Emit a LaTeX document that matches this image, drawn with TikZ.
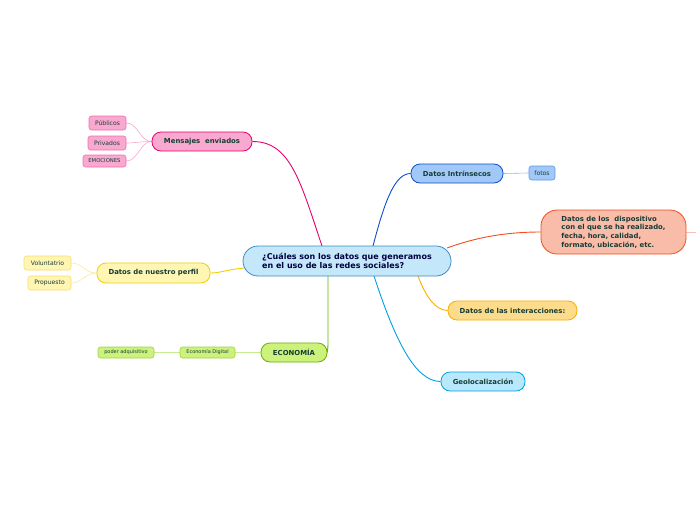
\documentclass[tikz,border=0pt]{standalone}
\usepackage{fontspec}
\setmainfont{DejaVu Sans}
\pgfdeclarelayer{bg}
\pgfsetlayers{bg,main}
\begin{document}
\begin{tikzpicture}[x=1pt,y=-1pt,
  topic/.style={draw, line width=0.8pt, rounded corners=#1, inner sep=0pt, font=\bfseries\fontsize{6.9}{7.5}\selectfont, text=labeltext},
  topic/.default=9pt,
  leaf/.style={draw, line width=0.6pt, rounded corners=2.5pt, inner sep=0pt, font=\fontsize{6.1}{7}\selectfont, text=labeltext},
  link/.style={line width=0.9pt},
  sublink/.style={line width=0.6pt}]
\definecolor{labeltext}{HTML}{163C36}
\definecolor{mainfill}{HTML}{C4E8FA}\definecolor{maindraw}{HTML}{3A8CC8}
\definecolor{pinkfill}{HTML}{F9A9CF}\definecolor{pinkdraw}{HTML}{E8006E}\definecolor{pinkleaf}{HTML}{F070B0}\definecolor{pinklite}{HTML}{F8A8D0}
\definecolor{yelfill}{HTML}{FFF6B4}\definecolor{yeldraw}{HTML}{F0D000}\definecolor{yelleaf}{HTML}{F8DC70}\definecolor{yellite}{HTML}{F8EAA0}
\definecolor{grnfill}{HTML}{CCF27C}\definecolor{grndraw}{HTML}{6AB000}\definecolor{grnleaf}{HTML}{9CD448}\definecolor{grnlite}{HTML}{C8EC90}
\definecolor{bluefill}{HTML}{A2C8F8}\definecolor{bluedraw}{HTML}{0A50C8}\definecolor{blueleaf}{HTML}{6098E8}\definecolor{bluelite}{HTML}{90B8F0}
\definecolor{orfill}{HTML}{F8BCA8}\definecolor{ordraw}{HTML}{F05020}\definecolor{orlite}{HTML}{F8C0B0}
\definecolor{ambfill}{HTML}{FCDC8A}\definecolor{ambdraw}{HTML}{F8B000}
\definecolor{cyfill}{HTML}{B8E8FC}\definecolor{cydraw}{HTML}{00A0E0}
\useasboundingbox (0,0) rectangle (696,520);

\coordinate (mT1) at (322,246);
\coordinate (mT2) at (373,246);
\coordinate (mR1) at (447,248);
\coordinate (mB1) at (418,276);
\coordinate (mB2) at (374,276);
\coordinate (mB3) at (328,276);
\coordinate (mL1) at (244,268);
\coordinate (edge) at (696,232);

% nodes
\node[topic=15pt, fill=mainfill, draw=maindraw, minimum width=208pt, minimum height=30pt, font=\bfseries\fontsize{8}{9.6}\selectfont, text=black!75!blue, align=left] (main) at (347,261) {¿Cuáles son los datos que generamos\\en el uso de las redes sociales?};

\node[topic, fill=pinkfill, draw=pinkdraw, minimum width=100pt, minimum height=19pt] (mens) at (202,141.5) {Mensajes\ \ enviados};
\node[leaf, fill=pinkfill, draw=pinkleaf, minimum width=37pt, minimum height=14pt] (pub) at (107.5,123) {Públicos};
\node[leaf, fill=pinkfill, draw=pinkleaf, minimum width=38pt, minimum height=14pt] (priv) at (107,143) {Privados};
\node[leaf, fill=pinkfill, draw=pinkleaf, minimum width=43pt, minimum height=12pt, font=\fontsize{5.3}{5}\selectfont] (emo) at (104.5,161) {EMOCIONES};

\node[topic, fill=yelfill, draw=yeldraw, minimum width=113pt, minimum height=20pt] (perf) at (153.5,273) {Datos de nuestro perfil};
\node[leaf, fill=yelfill, draw=yelleaf, minimum width=47pt, minimum height=14pt] (vol) at (47.5,263) {Voluntatrio};
\node[leaf, fill=yelfill, draw=yelleaf, minimum width=43pt, minimum height=14pt] (prop) at (49.5,283) {Propuesto};

\node[topic, fill=grnfill, draw=grndraw, minimum width=66pt, minimum height=19pt] (eco) at (294,352.5) {ECONOMÍA};
\node[leaf, fill=grnfill, draw=grnleaf, minimum width=55pt, minimum height=11pt, font=\fontsize{5}{5}\selectfont] (ecod) at (207.5,352.5) {Economía Digital};
\node[leaf, fill=grnfill, draw=grnleaf, minimum width=56pt, minimum height=11pt, font=\fontsize{5}{5}\selectfont] (poder) at (126,352.5) {poder adquisitivo};

\node[topic, fill=bluefill, draw=bluedraw, minimum width=92pt, minimum height=19pt] (intr) at (457,173.5) {Datos Intrínsecos};
\node[leaf, fill=bluefill, draw=blueleaf, minimum width=26pt, minimum height=14pt] (fotos) at (542,173) {fotos};

\node[topic=16pt, fill=orfill, draw=ordraw, minimum width=145pt, minimum height=44pt, align=left, font=\bfseries\fontsize{6.9}{8.6}\selectfont] (disp) at (613.5,232) {Datos de los\ \ dispositivo\\con el que se ha realizado,\\fecha, hora, calidad,\\formato, ubicación, etc.};

\node[topic, fill=ambfill, draw=ambdraw, minimum width=129pt, minimum height=19pt] (inter) at (512.5,310.5) {Datos de las interacciones:};

\node[topic, fill=cyfill, draw=cydraw, minimum width=84pt, minimum height=19pt] (geo) at (483,381.5) {Geolocalización};

\begin{pgfonlayer}{bg}
\fill[white] (0,0) rectangle (696,520);
\draw[link, pinkdraw] (mT1) .. controls (300,180) and (290,141.5) .. (mens.east);
\draw[link, bluedraw] (mT2) .. controls (385,200) and (395,173.5) .. (intr.west);
\draw[link, ordraw] (mR1) .. controls (480,236) and (510,232) .. (disp.west);
\draw[link, ambdraw] (mB1) .. controls (425,295) and (435,310.5) .. (inter.west);
\draw[link, cydraw] (mB2) .. controls (395,340) and (415,381.5) .. (geo.west);
\draw[link, grndraw] (mB3) -- (328,343) .. controls (328,350) and (327,352.5) .. (eco.east);
\draw[link, yeldraw] (mL1) .. controls (225,270) and (220,273) .. (perf.east);
\draw[sublink, orlite] (disp.east) -- (edge);
\draw[sublink, pinklite] (mens.west) .. controls (140,141.5) and (138,123) .. (pub.east);
\draw[sublink, pinklite] (mens.west) .. controls (140,141.5) and (135,143) .. (priv.east);
\draw[sublink, pinklite] (mens.west) .. controls (140,141.5) and (138,161) .. (emo.east);
\draw[sublink, yellite] (perf.west) .. controls (85,273) and (82,263) .. (vol.east);
\draw[sublink, yellite] (perf.west) .. controls (85,273) and (82,283) .. (prop.east);
\draw[sublink, grnlite] (eco.west) -- (ecod.east);
\draw[sublink, grnlite] (ecod.west) -- (poder.east);
\draw[sublink, bluelite] (intr.east) -- (fotos.west);
\end{pgfonlayer}
\end{tikzpicture}
\end{document}
